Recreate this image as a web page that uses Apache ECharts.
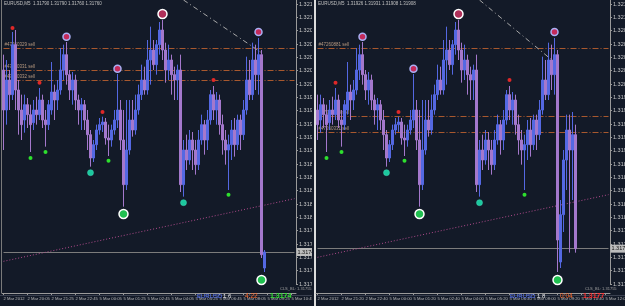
<!DOCTYPE html>
<html><head><meta charset="utf-8">
<script src="https://cdn.jsdelivr.net/npm/echarts@6/dist/echarts.min.js"></script>
<style>
html,body{margin:0;padding:0;background:#131a28;width:625px;height:306px;overflow:hidden}
#left{position:absolute;left:0;top:0;width:312px;height:306px}
#right{position:absolute;left:312px;top:0;width:313px;height:306px}
</style></head><body>
<div id="left"></div><div id="right"></div>
<script>
// candles: [open, close, low, high]
const sharedCandles = [
[1.32021,1.31961,1.31901,1.32044],[1.31961,1.32006,1.31939,1.32036],[1.32006,1.31984,1.31961,1.32021],[1.31984,1.32059,1.31976,1.32078],
[1.32059,1.31991,1.31961,1.32081],[1.31991,1.31961,1.31924,1.32006],[1.31961,1.31939,1.31916,1.31984],[1.31946,1.31969,1.31927,1.31984],
[1.31969,1.31954,1.31934,1.31979],[1.31954,1.31939,1.31898,1.31969],[1.31942,1.31961,1.31931,1.31976],[1.31961,1.31954,1.31939,1.31981],
[1.31954,1.31976,1.31946,1.31994],[1.31976,1.31946,1.31934,1.31984],[1.31946,1.31939,1.31906,1.31961],[1.31939,1.31969,1.31931,1.31976],
[1.31961,1.31988,1.31954,1.32033],[1.31988,1.31976,1.31946,1.31999],[1.31976,1.31991,1.31961,1.32006],[1.31991,1.32021,1.31984,1.32054],
[1.32021,1.32044,1.32006,1.32059],[1.32044,1.32014,1.31999,1.32063],[1.32014,1.31991,1.31976,1.32021],[1.31991,1.32006,1.31969,1.32018],
[1.32006,1.31976,1.31961,1.32014],[1.31976,1.31961,1.31939,1.31984],[1.31961,1.31969,1.31931,1.31979],[1.31969,1.31946,1.31931,1.31976],
[1.31946,1.31924,1.31901,1.31961],[1.31924,1.31889,1.31876,1.31931],[1.31889,1.31909,1.31883,1.31916],[1.31909,1.31931,1.31901,1.31939],
[1.31931,1.31939,1.31924,1.31949],[1.31939,1.31943,1.31928,1.31951],[1.31943,1.31919,1.31909,1.31949],[1.31919,1.31916,1.31892,1.31939],
[1.31916,1.31931,1.31906,1.31939],[1.31931,1.31946,1.31924,1.31961],[1.31946,1.31961,1.31934,1.32015],[1.31961,1.31916,1.31901,1.31976],
[1.31916,1.31849,1.31816,1.31961],[1.31849,1.31901,1.31841,1.31976],[1.31901,1.31946,1.31894,1.31976],[1.31946,1.31931,1.31921,1.31976],
[1.31931,1.31961,1.31924,1.31984],[1.31961,1.31984,1.31954,1.31999],[1.31984,1.32006,1.31976,1.32029],[1.32006,1.31991,1.31984,1.32026],
[1.31991,1.32036,1.31984,1.32066],[1.32036,1.32051,1.31999,1.32086],[1.32051,1.32029,1.32021,1.32066],[1.32029,1.32059,1.32014,1.32066],
[1.32059,1.32081,1.32044,1.32093],[1.32081,1.32051,1.32036,1.32096],[1.32051,1.32021,1.32002,1.32062],[1.32021,1.32036,1.32006,1.32059],
[1.32036,1.32014,1.31984,1.32044],[1.32014,1.32006,1.31976,1.32026],[1.32006,1.32021,1.31976,1.32029],[1.32021,1.31849,1.31838,1.32044],
[1.31849,1.31901,1.31831,1.31916],[1.31901,1.31886,1.31871,1.31924],[1.31886,1.31916,1.31879,1.31931],[1.31916,1.31901,1.31871,1.31928],
[1.31901,1.31879,1.31864,1.31916],[1.31879,1.31916,1.31871,1.31931],[1.31916,1.31939,1.31909,1.31954],[1.31939,1.31916,1.31894,1.31946],
[1.31916,1.31946,1.31901,1.31961],[1.31946,1.31984,1.31939,1.31991],[1.31984,1.31961,1.31946,1.31997],[1.31961,1.31976,1.31939,1.31988],
[1.31976,1.31939,1.31924,1.31984],[1.31939,1.31916,1.31894,1.31954],[1.31916,1.31901,1.31879,1.31931],[1.31901,1.31909,1.31841,1.31924],
[1.31909,1.31931,1.31886,1.31946],[1.31931,1.31909,1.31891,1.31949],[1.31909,1.31946,1.31901,1.31954],[1.31946,1.31924,1.31901,1.31954],
[1.31924,1.31961,1.31916,1.31976],[1.31961,1.32006,1.31954,1.32041],[1.32006,1.31984,1.31976,1.32036],[1.31984,1.32036,1.31976,1.32062],
[1.32036,1.32014,1.31991,1.32059],[1.32014,1.32044,1.31984,1.32069]
];
const leftTail = [[1.32044,1.31744,1.31739,1.32051],[1.31724,1.31748,1.31718,1.31751]];
const rightTail = [
[1.32044,1.31766,1.31718,1.32051],[1.31733,1.31804,1.31724,1.31826],[1.31804,1.31886,1.31778,1.31901],
[1.31886,1.31931,1.31841,1.31954],[1.31931,1.31901,1.31747,1.31954],[1.31901,1.31924,1.31826,1.31958],
[1.31924,1.31753,1.31747,1.31939]
];
const rightOffset = 6;
const slotCount = 98;
const leftTimeLabels = ["2 Mar 2012","2 Mar 20:05","2 Mar 21:25","2 Mar 22:45","5 Mar 00:05","5 Mar 01:25","5 Mar 02:45","5 Mar 04:05","5 Mar 05:25","5 Mar 06:45","5 Mar 08:05","5 Mar 09:25","5 Mar 10:45"];
const rightTimeLabels = ["2 Mar 2012","2 Mar 21:20","2 Mar 22:40","5 Mar 00:00","5 Mar 01:20","5 Mar 02:40","5 Mar 04:00","5 Mar 05:20","5 Mar 06:40","5 Mar 08:00","5 Mar 09:20","5 Mar 10:40","5 Mar 12:00"];
// markers: [candle index, price]
const redDots = [[3,1.32084],[12,1.32002],[33,1.31958],[70,1.32006]];
const greenDots = [[9,1.31889],[14,1.31898],[35,1.31885],[75,1.31834]];
const ringDots = [[21,1.32071],[38,1.32023],[85,1.32078]];
const tealDots = [[29,1.31867],[60,1.31822]];
const topCircles = [[53,1.32105]];
const bottomCircles = [[40,1.31805],[86,1.31706]];
const leftOrderPrices = [1.32054,1.32021,1.32006];
const leftOrderNames = ["#47260329 sell","#47260331 sell","#47260332 sell"];
const rightOrderPrices = [1.32054,1.31952,1.31927];
const rightOrderNames = ["#47260881 sell","#47260329 sell","#47260331 sell"];
const leftBid = 1.31748, rightBid = 1.31753;
const leftTrend = [1.31734,1.31828];
const rightTrend = [1.31740,1.31834];
const leftDiag = [[60,1.32126],[86,1.32047]];
const rightDiag = [[60,1.32126],[86,1.32029]];
const leftHeader = "EURUSD,M5  1.31790 1.31790 1.31760 1.31760";
const rightHeader = "EURUSD,M5  1.31926 1.31931 1.31908 1.31908";
const leftStatus = ["EURUSD","1.6","4:22","1.3174"];
const rightStatus = ["EURUSD","1.8","0:04","1.3177"];

const BG = '#131a28';
function build(el, cfg) {
  const chart = echarts.init(el, null, {renderer:'canvas'});
  const cats = [];
  for (let k = 0; k < slotCount; k++) cats.push(k % 8 === 0 ? (cfg.times[k/8] || '') : '');
  const mapM = arr => arr.map(d => [d[0]-cfg.offset, d[1]]).filter(d => d[0] >= 0);
  const sc = (data, size, color, border, bw) => ({
    type:'scatter', data: mapM(data), symbolSize:size, z:5,
    itemStyle:{color:color, borderColor:border||color, borderWidth:bw||0, opacity:1}
  });
  const last = slotCount - 1;
  const ordLines = cfg.orders.map((p,i)=>[
    {coord:[0,p], lineStyle:{color:'#a8582e', type:[6,2,1,2], width:1},
     label:{show:true, position:'insideStartTop', formatter:cfg.orderNames[i], fontSize:4.5, color:'#b89a80', distance:1, fontFamily:'Liberation Sans'}},
    {coord:[last,p]}]);
  const lineHolder = {type:'scatter', data:[], z:1, silent:true,
    markLine:{symbol:['none','none'], silent:true, animation:false, z:1,
      data: ordLines.concat([
        [{coord:[0,cfg.bid], lineStyle:{color:'#7c7c7c', type:'solid', width:1},
          label:{show:true, position:'end', formatter:cfg.bid.toFixed(5), fontSize:5.5, color:'#101010', backgroundColor:'#bdbdbd', padding:[1,1], distance:2, fontFamily:'Liberation Sans'}},
         {coord:[last,cfg.bid]}],
        [{coord:[0,cfg.trend[0]], lineStyle:{color:'#b04a8c', type:[1,2], width:1}, label:{show:false}},{coord:[last,cfg.trend[1]]}],
        [{coord:[cfg.diag[0][0]-cfg.offset,cfg.diag[0][1]], lineStyle:{color:'#a8a8a8', type:[5,3,1,3], width:1}, label:{show:false}},{coord:[cfg.diag[1][0]-cfg.offset,cfg.diag[1][1]]}]
      ])}};
  chart.setOption({
    animation:false,
    backgroundColor: BG,
    grid:{left:cfg.gridLeft, top:0, width:294, height:284, containLabel:false, outerBoundsMode:'none'},
    xAxis:{type:'category', data:cats, boundaryGap:true, offset:9,
      axisLine:{show:true, lineStyle:{color:'#9a9a9a'}},
      axisTick:{show:true, interval:7, length:2, alignWithLabel:true, lineStyle:{color:'#9a9a9a'}},
      axisLabel:{interval:7, fontSize:4.2, color:'#b8b8b8', align:'left', margin:4, fontFamily:'Liberation Sans'},
      splitLine:{show:false}},
    yAxis:{type:'value', position:'right', min:1.3170, max:1.32126, interval:0.0002,
      axisLine:{show:true, lineStyle:{color:'#9a9a9a'}},
      axisTick:{show:true, length:2, lineStyle:{color:'#9a9a9a'}},
      axisLabel:{fontSize:5.5, color:'#c8c8c8', margin:3, showMaxLabel:false, fontFamily:'Liberation Sans', formatter:v=>v.toFixed(5)},
      splitLine:{show:false}},
    series:[
      lineHolder,
      {type:'candlestick', data:cfg.candles, barWidth:2, z:2,
       itemStyle:{color:'#5468e2', color0:'#a478cc', borderColor:'#5468e2', borderColor0:'#a478cc', borderWidth:1}},
      sc(redDots, 4, '#e02828'),
      sc(greenDots, 4, '#2ee02e'),
      sc(tealDots, 6, '#1cc89e', '#3fd8b8', 0.5),
      sc(ringDots, 7, '#c42a5a', '#aab0f4', 1.5),
      sc(topCircles, 9, '#b0305a', '#ffffff', 1.5),
      sc(bottomCircles, 9, '#20c050', '#ffffff', 1.5)
    ],
    graphic: cfg.graphic
  });
  return chart;
}

const statusStyle = (txt, x, color, size, bold) => ({type:'text', left:x, top:293, z:10,
  style:{text:txt, fill:color, fontSize:size, fontWeight:bold?'bold':'normal', fontFamily:'Liberation Sans'}});

build(document.getElementById('left'), {
  candles: sharedCandles.concat(leftTail), offset:0, times:leftTimeLabels, gridLeft:2,
  orders:leftOrderPrices, orderNames:leftOrderNames, bid:leftBid, trend:leftTrend, diag:leftDiag,
  graphic:[
    {type:'rect', shape:{x:1,y:0,width:1,height:293}, style:{fill:'#7a7a7a'}},
    {type:'rect', shape:{x:0,y:295,width:312,height:1}, style:{fill:'#3a4050'}},
    {type:'text', left:4, top:1, style:{text:leftHeader, fill:'#c0c0c0', fontSize:4.5, fontFamily:'Liberation Sans'}},
    {type:'text', left:280, top:287, style:{text:'CLS_BL: 1.31755', fill:'#a0a0a0', fontSize:4, fontFamily:'Liberation Sans'}},
    statusStyle(leftStatus[0], 197, '#5a78ff', 6),
    statusStyle(leftStatus[1], 223, '#e8e8e8', 6),
    statusStyle(leftStatus[2], 245, '#ff6a2a', 6.5),
    statusStyle(leftStatus[3], 270, '#33e033', 7, true)
  ]
});
build(document.getElementById('right'), {
  candles: sharedCandles.slice(rightOffset).concat(rightTail), offset:rightOffset, times:rightTimeLabels, gridLeft:4,
  orders:rightOrderPrices, orderNames:rightOrderNames, bid:rightBid, trend:rightTrend, diag:rightDiag,
  graphic:[
    {type:'rect', shape:{x:2,y:0,width:2,height:306}, style:{fill:'#dcdcdc'}},
    {type:'rect', shape:{x:4,y:295,width:309,height:1}, style:{fill:'#3a4050'}},
    {type:'text', left:6, top:1, style:{text:rightHeader, fill:'#c0c0c0', fontSize:4.5, fontFamily:'Liberation Sans'}},
    {type:'text', left:273, top:287, style:{text:'CLS_BL: 1.31755', fill:'#a0a0a0', fontSize:4, fontFamily:'Liberation Sans'}},
    statusStyle(rightStatus[0], 198, '#5a78ff', 6),
    statusStyle(rightStatus[1], 225, '#e8e8e8', 6),
    statusStyle(rightStatus[2], 248, '#ff6a2a', 6.5),
    statusStyle(rightStatus[3], 271, '#ff3030', 7, true)
  ]
});
</script>
</body></html>
